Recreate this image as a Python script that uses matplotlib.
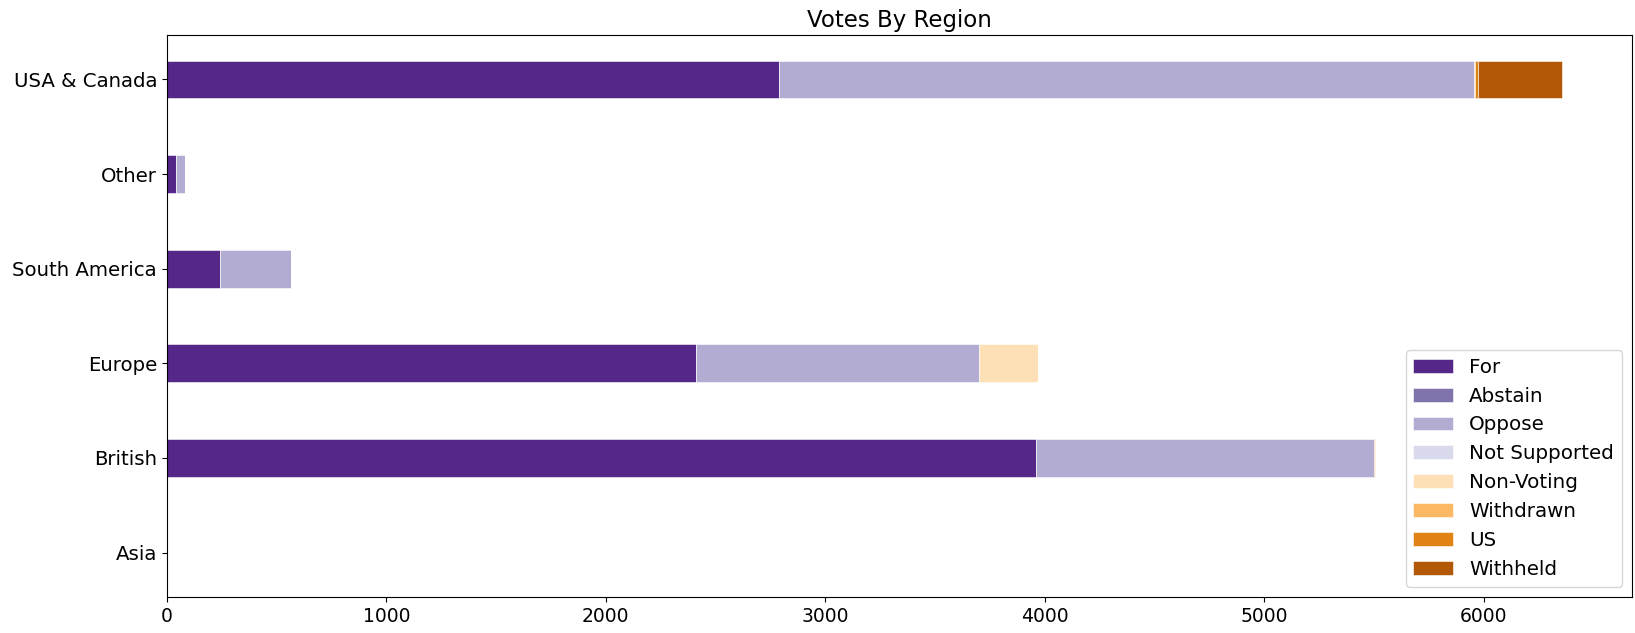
import matplotlib
matplotlib.use("Agg")
import matplotlib.pyplot as plt
import numpy as np

regions = ["Asia", "British", "Europe", "South America", "Other", "USA & Canada"]
vote_types = ["For", "Abstain", "Oppose", "Not Supported", "Non-Voting", "Withdrawn", "US", "Withheld"]
colors = ["#542788", "#8073ac", "#b2abd2", "#d8daeb", "#fee0b6", "#fdb863", "#e08214", "#b35806"]

# values per vote type, ordered like `regions`
for_votes       = [0, 3960, 2413, 243, 42, 2787]
abstain_votes   = [0, 0, 0, 0, 0, 0]
oppose_votes    = [0, 1540, 1285, 323, 41, 3166]
notsup_votes    = [0, 0, 0, 0, 0, 0]
nonvoting_votes = [0, 0, 269, 0, 0, 0]
withdrawn_votes = [0, 0, 0, 0, 0, 8]
us_votes        = [0, 5, 0, 0, 0, 12]
withheld_votes  = [0, 0, 0, 0, 0, 383]

series = [for_votes, abstain_votes, oppose_votes, notsup_votes,
          nonvoting_votes, withdrawn_votes, us_votes, withheld_votes]

fig = plt.figure(figsize=(16.35, 6.33), dpi=100)
ax = fig.add_axes([0.102, 0.0569, 0.896, 0.8878])

y = np.arange(len(regions))
left = np.zeros(len(regions))
for name, vals, c in zip(vote_types, series, colors):
    vals = np.array(vals, dtype=float)
    ax.barh(y, vals, height=0.4, left=left, color=c, label=name,
            edgecolor="white", linewidth=0.4)
    left += vals

ax.set_yticks(y)
ax.set_yticklabels(regions)
ax.tick_params(axis="x", labelsize=13.5)
ax.tick_params(axis="y", labelsize=14.2)
ax.set_title("Votes By Region", fontsize=16.5)
ax.legend(loc="lower right", fontsize=14.3)

fig.savefig("out.png", dpi=100)
